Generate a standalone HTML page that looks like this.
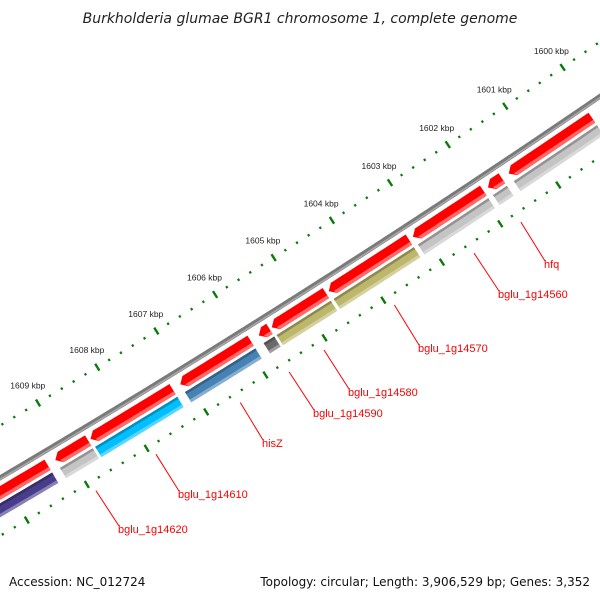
<!DOCTYPE html>
<html><head><meta charset="utf-8"><style>
html,body{margin:0;padding:0;background:#fff}
svg{display:block;font-family:"Liberation Sans","DejaVu Sans",sans-serif}
</style></head><body>
<svg id="map" width="600" height="600" viewBox="0 0 600 600" xmlns="http://www.w3.org/2000/svg">
<rect width="600" height="600" fill="#fff"/>
<text x="300" y="23" text-anchor="middle" font-size="14" font-style="italic" fill="#222" style="font-family:'DejaVu Sans',sans-serif">Burkholderia glumae BGR1 chromosome 1, complete genome</text>
<g id="ticks"></g>
<g id="backbone"></g>
<g id="genes"></g>
<g id="labels"></g>
<text x="9" y="586" font-size="12" fill="#111" style="font-family:'DejaVu Sans',sans-serif">Accession: NC_012724</text>
<text x="590" y="586" text-anchor="end" font-size="12" fill="#111" style="font-family:'DejaVu Sans',sans-serif">Topology: circular; Length: 3,906,529 bp; Genes: 3,352</text>
</svg>
<script>
// data (kbp)
const geneStarts = [1599.40, 1600.06, 1601.62, 1601.94, 1603.22, 1604.64, 1605.60, 1605.92, 1607.24, 1608.66, 1609.34];
const geneEnds   = [1599.87, 1601.50, 1601.86, 1603.15, 1604.59, 1605.56, 1605.78, 1607.11, 1608.62, 1609.21, 1610.90];
const geneCogColors = ["#c4c4c4","#c4c4c4","#c4c4c4","#c4c4c4","#bdb76b","#bdb76b","#6a6a6a","#4682b4","#00bfff","#c4c4c4","#483d8b"];
const geneNames = ["","","hfq","bglu_1g14560","bglu_1g14570","bglu_1g14580","bglu_1g14590","hisZ","bglu_1g14610","bglu_1g14620",""];
const labelX = [0,0,544,498,418,348,313,262,178,118,0];
const labelY = [0,0,268,298,352,396,417,447,498,533,0];
const majorTicks = [1600,1601,1602,1603,1604,1605,1606,1607,1608,1609,1610];
const tickLabels = ["1600 kbp","1601 kbp","1602 kbp","1603 kbp","1604 kbp","1605 kbp","1606 kbp","1607 kbp","1608 kbp","1609 kbp","1610 kbp"];

const NS="http://www.w3.org/2000/svg";
const CX=-5394, CY=-8668;
const R_TIN=10573, R_BB=10618, R_RED_I=10625, R_RED_O=10637, R_COG_I=10640, R_COG_O=10652, R_TOUT=10668;
function ang(k){return (55.71+(k-1600)*0.375)*Math.PI/180;}
function pt(k,r){const a=ang(k);return [CX+r*Math.cos(a),CY+r*Math.sin(a)];}
function f(p){return p[0].toFixed(2)+","+p[1].toFixed(2);}
function arcPts(k0,k1,r){const n=Math.max(2,Math.ceil(Math.abs(k1-k0)/0.05));const o=[];for(let i=0;i<=n;i++)o.push(pt(k0+(k1-k0)*i/n,r));return o;}
function mk(tag,attrs,parent){const e=document.createElementNS(NS,tag);for(const k in attrs)e.setAttribute(k,attrs[k]);parent.appendChild(e);return e;}

// ticks
const tg=document.getElementById('ticks');
for(let i=0;i<=65;i++){
  const k=1598.6+i*0.2;
  const major=Math.abs(k-Math.round(k))<1e-6;
  [R_TOUT,R_TIN].forEach(r=>{
    const h=major?4:1.2;
    const p1=pt(k,r-h), p2=pt(k,r+h);
    const l=mk('line',{x1:p1[0].toFixed(2),y1:p1[1].toFixed(2),x2:p2[0].toFixed(2),y2:p2[1].toFixed(2),stroke:'#0a7a0a','stroke-width':major?2.4:2.2},tg);
    
    
  });
}
majorTicks.forEach((k,i)=>{
  const p=pt(k,R_TIN-20);
  const t=mk('text',{x:p[0].toFixed(1),y:(p[1]+3).toFixed(1),'text-anchor':'middle','font-size':'8.5',fill:'#222'},tg);
  t.textContent=tickLabels[i];
  
  
});

// backbone
const bg=document.getElementById('backbone');
let b1=mk('polyline',{points:arcPts(1598.5,1611,R_BB).map(f).join(' '),fill:'none',stroke:'#7a7a7a','stroke-width':5},bg);


let b2=mk('polyline',{points:arcPts(1598.5,1611,R_BB+1.2).map(f).join(' '),fill:'none',stroke:'#a8a8a8','stroke-width':1.6},bg);



// genes
const gg=document.getElementById('genes');
function lighten(hex,amt){const n=parseInt(hex.slice(1),16);let r=n>>16,g=(n>>8)&255,b=n&255;r=Math.round(r+(255-r)*amt);g=Math.round(g+(255-g)*amt);b=Math.round(b+(255-b)*amt);return 'rgb('+r+','+g+','+b+')';}
function darken(hex,amt){const n=parseInt(hex.slice(1),16);let r=n>>16,g=(n>>8)&255,b=n&255;return 'rgb('+Math.round(r*(1-amt))+','+Math.round(g*(1-amt))+','+Math.round(b*(1-amt))+')';}
geneStarts.forEach((s,i)=>{
  const e=geneEnds[i];
  const head=Math.min(0.09,(e-s)*0.5);
  const inner=arcPts(s,e-head,R_RED_I), outer=arcPts(e-head,s,R_RED_O);
  const tip=pt(e,(R_RED_O+R_RED_I)/2);
  const a=mk('polygon',{points:[...inner,tip,...outer].map(f).join(' '),fill:'#ff0000'},gg);
  
  
  const a2=mk('polygon',{points:[...arcPts(s,e-head*0.7,R_RED_O-3.5),...arcPts(e-head,s,R_RED_O)].map(f).join(' '),fill:'#ff6a6a'},gg);
  
  
  const c=geneCogColors[i];
  const box=mk('polygon',{points:[...arcPts(s,e,R_COG_I),...arcPts(e,s,R_COG_O)].map(f).join(' '),fill:c},gg);
  
  
  const top=mk('polygon',{points:[...arcPts(s,e,R_COG_I),...arcPts(e,s,R_COG_I+2.5)].map(f).join(' '),fill:darken(c,0.25)},gg);
  
  
  const bot=mk('polygon',{points:[...arcPts(s,e,R_COG_O-3),...arcPts(e,s,R_COG_O)].map(f).join(' '),fill:lighten(c,0.35)},gg);
  
  
});

// labels
const lg=document.getElementById('labels');
geneNames.forEach((n,i)=>{
  if(!n)return;
  const m=(geneStarts[i]+geneEnds[i])/2;
  const p=pt(m,R_TOUT+10);
  const l=mk('line',{x1:p[0].toFixed(1),y1:p[1].toFixed(1),x2:labelX[i]+1,y2:labelY[i]-7,stroke:'#ff0000','stroke-width':1},lg);
  
  
  const t=mk('text',{x:labelX[i],y:labelY[i],'font-size':'11',fill:'#ff0000'},lg);
  t.textContent=n;
  
  
});
</script>
</body></html>
